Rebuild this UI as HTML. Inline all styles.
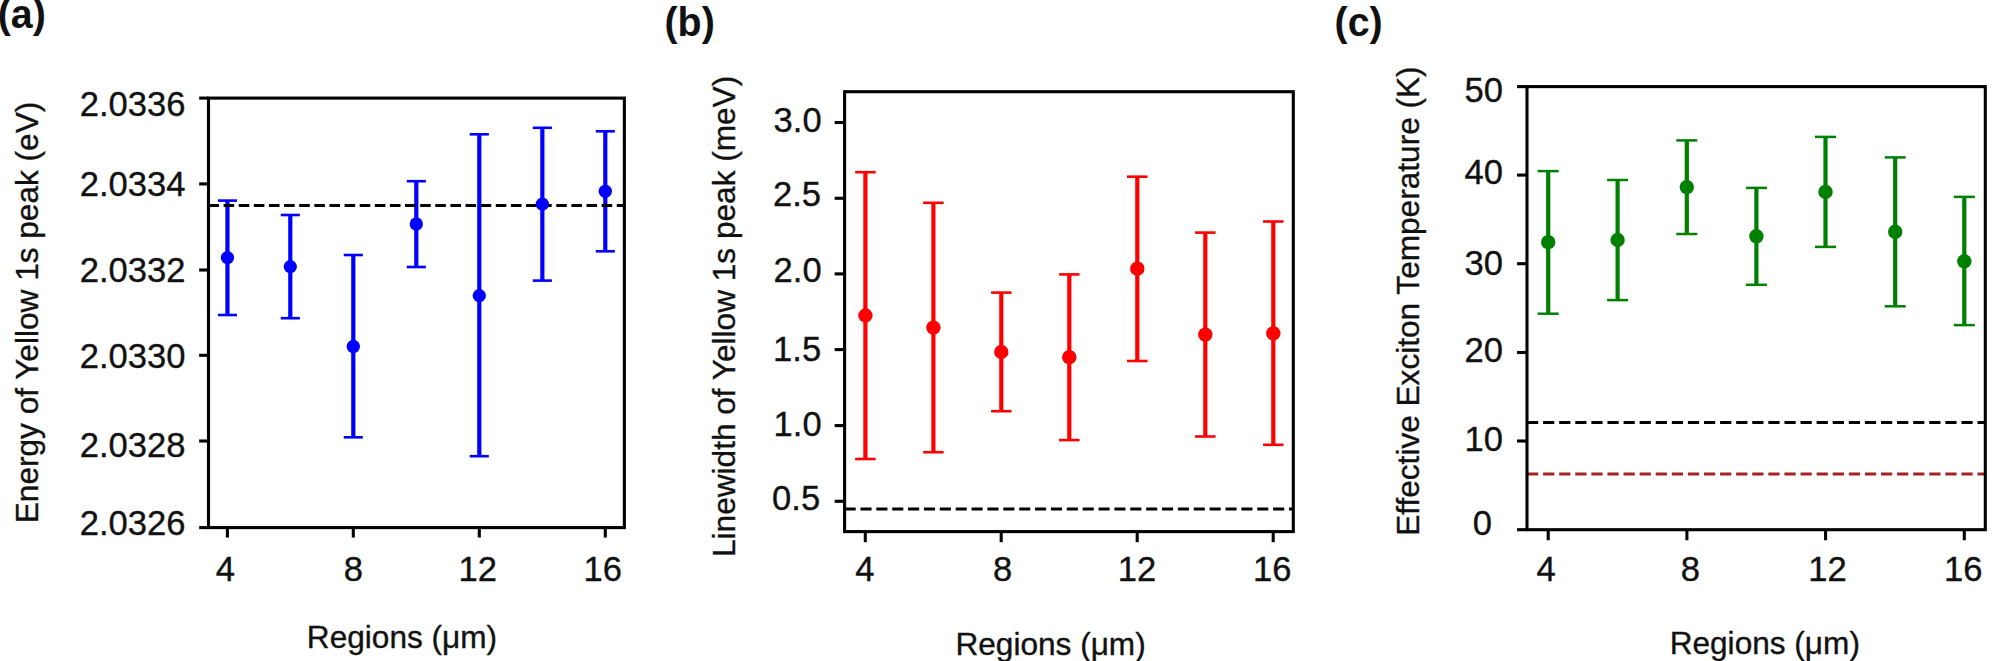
<!DOCTYPE html>
<html lang="en"><head><meta charset="utf-8"><title>Figure: Yellow 1s exciton statistics across regions</title>
<style>
html,body{margin:0;padding:0;background:#fff;}
body{width:2001px;height:661px;overflow:hidden;}
svg{display:block;}
text{font-family:"Liberation Sans",Arial,Helvetica,sans-serif;fill:#111;stroke:#111;stroke-width:0.35px;}
.tk{font-size:34.6px;}
.lb{font-size:31.6px;}
.pl{font-size:39.4px;font-weight:bold;stroke:none;}
</style></head><body>
<svg width="2001" height="661" viewBox="0 0 2001 661">
<rect x="0" y="0" width="2001" height="661" fill="#ffffff"/>
<g id="panel-a">
<line x1="227.45" y1="200.6" x2="227.45" y2="315" stroke="#0000ff" stroke-width="4.2"/>
<line x1="217.9" y1="200.6" x2="237" y2="200.6" stroke="#0000ff" stroke-width="2.6"/>
<line x1="217.9" y1="315" x2="237" y2="315" stroke="#0000ff" stroke-width="2.6"/>
<line x1="290.3" y1="215" x2="290.3" y2="318.2" stroke="#0000ff" stroke-width="4.2"/>
<line x1="280.75" y1="215" x2="299.85" y2="215" stroke="#0000ff" stroke-width="2.6"/>
<line x1="280.75" y1="318.2" x2="299.85" y2="318.2" stroke="#0000ff" stroke-width="2.6"/>
<line x1="353.3" y1="255" x2="353.3" y2="437.3" stroke="#0000ff" stroke-width="4.2"/>
<line x1="343.75" y1="255" x2="362.85" y2="255" stroke="#0000ff" stroke-width="2.6"/>
<line x1="343.75" y1="437.3" x2="362.85" y2="437.3" stroke="#0000ff" stroke-width="2.6"/>
<line x1="416.3" y1="181.2" x2="416.3" y2="267" stroke="#0000ff" stroke-width="4.2"/>
<line x1="406.75" y1="181.2" x2="425.85" y2="181.2" stroke="#0000ff" stroke-width="2.6"/>
<line x1="406.75" y1="267" x2="425.85" y2="267" stroke="#0000ff" stroke-width="2.6"/>
<line x1="479.3" y1="134.3" x2="479.3" y2="456.2" stroke="#0000ff" stroke-width="4.2"/>
<line x1="469.75" y1="134.3" x2="488.85" y2="134.3" stroke="#0000ff" stroke-width="2.6"/>
<line x1="469.75" y1="456.2" x2="488.85" y2="456.2" stroke="#0000ff" stroke-width="2.6"/>
<line x1="542.35" y1="127.8" x2="542.35" y2="280.6" stroke="#0000ff" stroke-width="4.2"/>
<line x1="532.8" y1="127.8" x2="551.9" y2="127.8" stroke="#0000ff" stroke-width="2.6"/>
<line x1="532.8" y1="280.6" x2="551.9" y2="280.6" stroke="#0000ff" stroke-width="2.6"/>
<line x1="605.3" y1="131.3" x2="605.3" y2="251.3" stroke="#0000ff" stroke-width="4.2"/>
<line x1="595.75" y1="131.3" x2="614.85" y2="131.3" stroke="#0000ff" stroke-width="2.6"/>
<line x1="595.75" y1="251.3" x2="614.85" y2="251.3" stroke="#0000ff" stroke-width="2.6"/>
<line x1="208.5" y1="205.5" x2="624.35" y2="205.5" stroke="#000" stroke-width="2.9" stroke-dasharray="10.56 4.56"/>
<circle cx="227.45" cy="257.6" r="6.65" fill="#0000ff"/>
<circle cx="290.3" cy="266.6" r="6.65" fill="#0000ff"/>
<circle cx="353.3" cy="346.5" r="6.65" fill="#0000ff"/>
<circle cx="416.3" cy="224" r="6.65" fill="#0000ff"/>
<circle cx="479.3" cy="295.6" r="6.65" fill="#0000ff"/>
<circle cx="542.35" cy="204.1" r="6.65" fill="#0000ff"/>
<circle cx="605.3" cy="191.3" r="6.65" fill="#0000ff"/>
<rect x="208.5" y="98.1" width="415.85" height="429.5" fill="none" stroke="#000" stroke-width="3.1"/>
<line x1="199.15" y1="98.1" x2="208.5" y2="98.1" stroke="#000" stroke-width="3.1"/>
<text class="tk" transform="translate(185.5,116.1) scale(1,1.015)" text-anchor="end">2.0336</text>
<line x1="199.15" y1="183.9" x2="208.5" y2="183.9" stroke="#000" stroke-width="3.1"/>
<text class="tk" transform="translate(185.5,196.1) scale(1,1.015)" text-anchor="end">2.0334</text>
<line x1="199.15" y1="270" x2="208.5" y2="270" stroke="#000" stroke-width="3.1"/>
<text class="tk" transform="translate(185.5,282.1) scale(1,1.015)" text-anchor="end">2.0332</text>
<line x1="199.15" y1="355.3" x2="208.5" y2="355.3" stroke="#000" stroke-width="3.1"/>
<text class="tk" transform="translate(185.5,368) scale(1,1.015)" text-anchor="end">2.0330</text>
<line x1="199.15" y1="441" x2="208.5" y2="441" stroke="#000" stroke-width="3.1"/>
<text class="tk" transform="translate(185.5,456.6) scale(1,1.015)" text-anchor="end">2.0328</text>
<line x1="199.15" y1="527.6" x2="208.5" y2="527.6" stroke="#000" stroke-width="3.1"/>
<text class="tk" transform="translate(185.5,534.8) scale(1,1.015)" text-anchor="end">2.0326</text>
<line x1="227.4" y1="527.6" x2="227.4" y2="537.55" stroke="#000" stroke-width="3.1"/>
<text class="tk" transform="translate(225.3,580.9) scale(1,1.015)" text-anchor="middle">4</text>
<line x1="353.3" y1="527.6" x2="353.3" y2="537.55" stroke="#000" stroke-width="3.1"/>
<text class="tk" transform="translate(353.3,580.9) scale(1,1.015)" text-anchor="middle">8</text>
<line x1="479.3" y1="527.6" x2="479.3" y2="537.55" stroke="#000" stroke-width="3.1"/>
<text class="tk" transform="translate(477.8,580.9) scale(1,1.015)" text-anchor="middle">12</text>
<line x1="605.3" y1="527.6" x2="605.3" y2="537.55" stroke="#000" stroke-width="3.1"/>
<text class="tk" transform="translate(602.8,580.9) scale(1,1.015)" text-anchor="middle">16</text>
<text class="lb" x="402" y="648" text-anchor="middle">Regions (μm)</text>
<text class="lb" transform="translate(38.3,312.5) rotate(-90)" text-anchor="middle">Energy of Yellow 1s peak (eV)</text>
<text class="pl" transform="translate(-2.3,28) scale(1,1.025)">(a)</text>
</g>
<g id="panel-b">
<line x1="865.4" y1="172.2" x2="865.4" y2="459" stroke="#ff0000" stroke-width="4.2"/>
<line x1="855.15" y1="172.2" x2="875.65" y2="172.2" stroke="#ff0000" stroke-width="2.6"/>
<line x1="855.15" y1="459" x2="875.65" y2="459" stroke="#ff0000" stroke-width="2.6"/>
<line x1="933.4" y1="202.8" x2="933.4" y2="452.2" stroke="#ff0000" stroke-width="4.2"/>
<line x1="923.15" y1="202.8" x2="943.65" y2="202.8" stroke="#ff0000" stroke-width="2.6"/>
<line x1="923.15" y1="452.2" x2="943.65" y2="452.2" stroke="#ff0000" stroke-width="2.6"/>
<line x1="1001.3" y1="292.6" x2="1001.3" y2="411.2" stroke="#ff0000" stroke-width="4.2"/>
<line x1="991.05" y1="292.6" x2="1011.55" y2="292.6" stroke="#ff0000" stroke-width="2.6"/>
<line x1="991.05" y1="411.2" x2="1011.55" y2="411.2" stroke="#ff0000" stroke-width="2.6"/>
<line x1="1069.3" y1="274.4" x2="1069.3" y2="440.1" stroke="#ff0000" stroke-width="4.2"/>
<line x1="1059.05" y1="274.4" x2="1079.55" y2="274.4" stroke="#ff0000" stroke-width="2.6"/>
<line x1="1059.05" y1="440.1" x2="1079.55" y2="440.1" stroke="#ff0000" stroke-width="2.6"/>
<line x1="1137.3" y1="176.7" x2="1137.3" y2="361" stroke="#ff0000" stroke-width="4.2"/>
<line x1="1127.05" y1="176.7" x2="1147.55" y2="176.7" stroke="#ff0000" stroke-width="2.6"/>
<line x1="1127.05" y1="361" x2="1147.55" y2="361" stroke="#ff0000" stroke-width="2.6"/>
<line x1="1205.3" y1="232.6" x2="1205.3" y2="436.5" stroke="#ff0000" stroke-width="4.2"/>
<line x1="1195.05" y1="232.6" x2="1215.55" y2="232.6" stroke="#ff0000" stroke-width="2.6"/>
<line x1="1195.05" y1="436.5" x2="1215.55" y2="436.5" stroke="#ff0000" stroke-width="2.6"/>
<line x1="1273.3" y1="221.5" x2="1273.3" y2="444.8" stroke="#ff0000" stroke-width="4.2"/>
<line x1="1263.05" y1="221.5" x2="1283.55" y2="221.5" stroke="#ff0000" stroke-width="2.6"/>
<line x1="1263.05" y1="444.8" x2="1283.55" y2="444.8" stroke="#ff0000" stroke-width="2.6"/>
<line x1="844.6" y1="509.1" x2="1293.3" y2="509.1" stroke="#000" stroke-width="3.0" stroke-dasharray="11.1 4.77"/>
<circle cx="865.4" cy="315.5" r="7.2" fill="#ff0000"/>
<circle cx="933.4" cy="327.6" r="7.2" fill="#ff0000"/>
<circle cx="1001.3" cy="352" r="7.2" fill="#ff0000"/>
<circle cx="1069.3" cy="357.2" r="7.2" fill="#ff0000"/>
<circle cx="1137.3" cy="268.7" r="7.2" fill="#ff0000"/>
<circle cx="1205.3" cy="334.6" r="7.2" fill="#ff0000"/>
<circle cx="1273.3" cy="333.3" r="7.2" fill="#ff0000"/>
<rect x="844.6" y="91.7" width="448.7" height="439.9" fill="none" stroke="#000" stroke-width="3.1"/>
<line x1="834.65" y1="122.5" x2="844.6" y2="122.5" stroke="#000" stroke-width="3.1"/>
<text class="tk" transform="translate(821.7,131.6) scale(1,1.015)" text-anchor="end">3.0</text>
<line x1="834.65" y1="198.3" x2="844.6" y2="198.3" stroke="#000" stroke-width="3.1"/>
<text class="tk" transform="translate(821,206) scale(1,1.015)" text-anchor="end">2.5</text>
<line x1="834.65" y1="273.9" x2="844.6" y2="273.9" stroke="#000" stroke-width="3.1"/>
<text class="tk" transform="translate(821.7,281.9) scale(1,1.015)" text-anchor="end">2.0</text>
<line x1="834.65" y1="349.6" x2="844.6" y2="349.6" stroke="#000" stroke-width="3.1"/>
<text class="tk" transform="translate(821.2,361) scale(1,1.015)" text-anchor="end">1.5</text>
<line x1="834.65" y1="425.6" x2="844.6" y2="425.6" stroke="#000" stroke-width="3.1"/>
<text class="tk" transform="translate(821.7,435.6) scale(1,1.015)" text-anchor="end">1.0</text>
<line x1="834.65" y1="501.3" x2="844.6" y2="501.3" stroke="#000" stroke-width="3.1"/>
<text class="tk" transform="translate(820.2,510.2) scale(1,1.015)" text-anchor="end">0.5</text>
<line x1="865.3" y1="531.6" x2="865.3" y2="542.15" stroke="#000" stroke-width="3.1"/>
<text class="tk" transform="translate(864.9,581.2) scale(1,1.015)" text-anchor="middle">4</text>
<line x1="1001.2" y1="531.6" x2="1001.2" y2="542.15" stroke="#000" stroke-width="3.1"/>
<text class="tk" transform="translate(1002.7,581.2) scale(1,1.015)" text-anchor="middle">8</text>
<line x1="1137.2" y1="531.6" x2="1137.2" y2="542.15" stroke="#000" stroke-width="3.1"/>
<text class="tk" transform="translate(1137,581.2) scale(1,1.015)" text-anchor="middle">12</text>
<line x1="1273.2" y1="531.6" x2="1273.2" y2="542.15" stroke="#000" stroke-width="3.1"/>
<text class="tk" transform="translate(1272.2,581.2) scale(1,1.015)" text-anchor="middle">16</text>
<text class="lb" x="1050.6" y="654.5" text-anchor="middle">Regions (μm)</text>
<text class="lb" transform="translate(734.5,316.4) rotate(-90)" text-anchor="middle">Linewidth of Yellow 1s peak (meV)</text>
<text class="pl" transform="translate(664.5,35.5) scale(1,1.025)">(b)</text>
</g>
<g id="panel-c">
<line x1="1548.2" y1="171.1" x2="1548.2" y2="313.7" stroke="#008000" stroke-width="4.2"/>
<line x1="1537.7" y1="171.1" x2="1558.7" y2="171.1" stroke="#008000" stroke-width="2.5"/>
<line x1="1537.7" y1="313.7" x2="1558.7" y2="313.7" stroke="#008000" stroke-width="2.5"/>
<line x1="1617.6" y1="180" x2="1617.6" y2="300.1" stroke="#008000" stroke-width="4.2"/>
<line x1="1607.1" y1="180" x2="1628.1" y2="180" stroke="#008000" stroke-width="2.5"/>
<line x1="1607.1" y1="300.1" x2="1628.1" y2="300.1" stroke="#008000" stroke-width="2.5"/>
<line x1="1686.8" y1="140.4" x2="1686.8" y2="234" stroke="#008000" stroke-width="4.2"/>
<line x1="1676.3" y1="140.4" x2="1697.3" y2="140.4" stroke="#008000" stroke-width="2.5"/>
<line x1="1676.3" y1="234" x2="1697.3" y2="234" stroke="#008000" stroke-width="2.5"/>
<line x1="1756.4" y1="187.9" x2="1756.4" y2="284.8" stroke="#008000" stroke-width="4.2"/>
<line x1="1745.9" y1="187.9" x2="1766.9" y2="187.9" stroke="#008000" stroke-width="2.5"/>
<line x1="1745.9" y1="284.8" x2="1766.9" y2="284.8" stroke="#008000" stroke-width="2.5"/>
<line x1="1825.5" y1="136.9" x2="1825.5" y2="246.9" stroke="#008000" stroke-width="4.2"/>
<line x1="1815" y1="136.9" x2="1836" y2="136.9" stroke="#008000" stroke-width="2.5"/>
<line x1="1815" y1="246.9" x2="1836" y2="246.9" stroke="#008000" stroke-width="2.5"/>
<line x1="1895.2" y1="157.4" x2="1895.2" y2="306.3" stroke="#008000" stroke-width="4.2"/>
<line x1="1884.7" y1="157.4" x2="1905.7" y2="157.4" stroke="#008000" stroke-width="2.5"/>
<line x1="1884.7" y1="306.3" x2="1905.7" y2="306.3" stroke="#008000" stroke-width="2.5"/>
<line x1="1964.3" y1="196.9" x2="1964.3" y2="325.1" stroke="#008000" stroke-width="4.2"/>
<line x1="1953.8" y1="196.9" x2="1974.8" y2="196.9" stroke="#008000" stroke-width="2.5"/>
<line x1="1953.8" y1="325.1" x2="1974.8" y2="325.1" stroke="#008000" stroke-width="2.5"/>
<line x1="1527" y1="422.55" x2="1985.3" y2="422.55" stroke="#000" stroke-width="3.0" stroke-dasharray="11.23 4.86"/>
<line x1="1527" y1="474" x2="1985.3" y2="474" stroke="#a32222" stroke-width="3.0" stroke-dasharray="11.23 4.86"/>
<circle cx="1548.2" cy="242.2" r="7.2" fill="#008000"/>
<circle cx="1617.6" cy="240" r="7.2" fill="#008000"/>
<circle cx="1686.8" cy="187.1" r="7.2" fill="#008000"/>
<circle cx="1756.4" cy="236.3" r="7.2" fill="#008000"/>
<circle cx="1825.5" cy="191.9" r="7.2" fill="#008000"/>
<circle cx="1895.2" cy="231.8" r="7.2" fill="#008000"/>
<circle cx="1964.3" cy="261.3" r="7.2" fill="#008000"/>
<rect x="1527" y="86.6" width="458.3" height="443.1" fill="none" stroke="#000" stroke-width="3.1"/>
<line x1="1517.05" y1="86.6" x2="1527" y2="86.6" stroke="#000" stroke-width="3.1"/>
<text class="tk" transform="translate(1503,102.2) scale(1,1.015)" text-anchor="end">50</text>
<line x1="1517.05" y1="175.1" x2="1527" y2="175.1" stroke="#000" stroke-width="3.1"/>
<text class="tk" transform="translate(1503,184.3) scale(1,1.015)" text-anchor="end">40</text>
<line x1="1517.05" y1="263.7" x2="1527" y2="263.7" stroke="#000" stroke-width="3.1"/>
<text class="tk" transform="translate(1503,274.8) scale(1,1.015)" text-anchor="end">30</text>
<line x1="1517.05" y1="352.5" x2="1527" y2="352.5" stroke="#000" stroke-width="3.1"/>
<text class="tk" transform="translate(1503,361.8) scale(1,1.015)" text-anchor="end">20</text>
<line x1="1517.05" y1="441" x2="1527" y2="441" stroke="#000" stroke-width="3.1"/>
<text class="tk" transform="translate(1503,451.2) scale(1,1.015)" text-anchor="end">10</text>
<line x1="1517.05" y1="529.7" x2="1527" y2="529.7" stroke="#000" stroke-width="3.1"/>
<text class="tk" transform="translate(1492.1,535.4) scale(1,1.015)" text-anchor="end">0</text>
<line x1="1548.2" y1="529.7" x2="1548.2" y2="540.25" stroke="#000" stroke-width="3.1"/>
<text class="tk" transform="translate(1546,581.2) scale(1,1.015)" text-anchor="middle">4</text>
<line x1="1686.9" y1="529.7" x2="1686.9" y2="540.25" stroke="#000" stroke-width="3.1"/>
<text class="tk" transform="translate(1690.3,581.2) scale(1,1.015)" text-anchor="middle">8</text>
<line x1="1825.6" y1="529.7" x2="1825.6" y2="540.25" stroke="#000" stroke-width="3.1"/>
<text class="tk" transform="translate(1827.5,581.2) scale(1,1.015)" text-anchor="middle">12</text>
<line x1="1964.3" y1="529.7" x2="1964.3" y2="540.25" stroke="#000" stroke-width="3.1"/>
<text class="tk" transform="translate(1963.3,581.2) scale(1,1.015)" text-anchor="middle">16</text>
<text class="lb" x="1764.8" y="654.3" text-anchor="middle">Regions (μm)</text>
<text class="lb" transform="translate(1419.1,301.1) rotate(-90)" text-anchor="middle">Effective Exciton Temperature (K)</text>
<text class="pl" transform="translate(1334.6,35.5) scale(1,1.025)">(c)</text>
</g>
</svg></body></html>
